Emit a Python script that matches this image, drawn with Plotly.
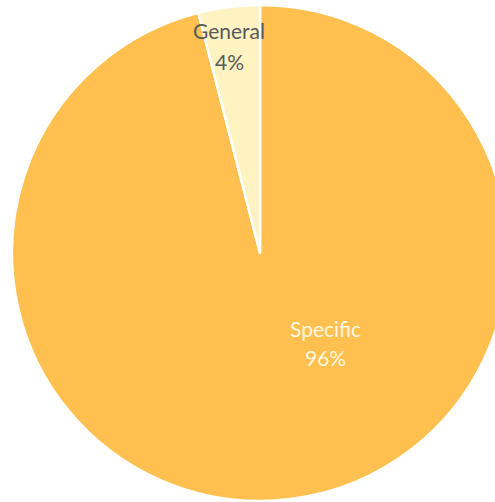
import plotly.graph_objects as go

labels = ["Specific", "General"]
values = [96, 4]
colors = ["#FFC04F", "#FFF3C2"]
text_colors = ["#FFF7E0", "#595959"]
pct_text = ["96%", "4%"]

W, H = 520, 502

fig = go.Figure(go.Pie(
    labels=labels,
    values=values,
    sort=False,
    direction="clockwise",
    rotation=0,
    marker=dict(colors=colors, line=dict(color="white", width=2.5)),
    textinfo="none",
    hoverinfo="label+percent",
    showlegend=False,
    domain=dict(x=[12 / W, 508 / W], y=[(H - 501) / H, (H - 5) / H]),
))

# label positions (pixel centres of each text line)
label_pos = {"Specific": (325, 328, 357), "General": (229, 31, 61)}
for lab, pct, tc in zip(labels, pct_text, text_colors):
    px, py1, py2 = label_pos[lab]
    for txt, py in ((lab, py1), (pct, py2)):
        fig.add_annotation(
            x=px / W, y=1 - py / H, xref="paper", yref="paper",
            text=txt, showarrow=False,
            font=dict(family="Lato, Carlito, sans-serif", size=21, color=tc),
            xanchor="center", yanchor="middle",
        )

fig.update_layout(
    width=W, height=H,
    autosize=False,
    margin=dict(l=0, r=0, t=0, b=0),
    paper_bgcolor="white",
    plot_bgcolor="white",
)

fig.write_html(
    "out.html",
    config={"displayModeBar": False},
    post_script="document.body.style.margin='0';document.body.style.overflow='hidden';",
)
